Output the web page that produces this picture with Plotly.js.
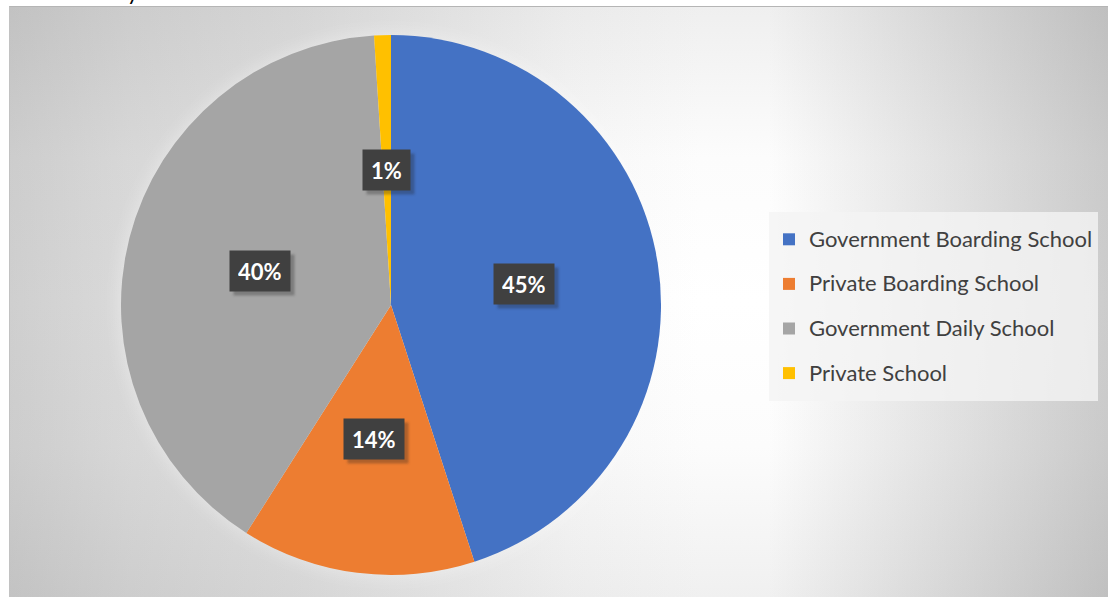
<!DOCTYPE html>
<html>
<head>
<meta charset="utf-8">
<script src="https://cdn.plot.ly/plotly-3.0.1.min.js"></script>
<style>
html,body{margin:0;padding:0;background:#ffffff;}
#wrap{position:relative;width:1108px;height:598px;overflow:hidden;}
#bg{position:absolute;left:9px;top:6px;width:1099px;height:591px;box-sizing:border-box;
  border-top:1px solid #b5b5b5;border-left:1px solid #c2c2c2;
  background:
    linear-gradient(to right,#cfcfcf 0px,#dadada 120px,#e3e3e3 290px,#fafafa 560px,#ffffff 690px,#ffffff 760px,#ebebeb 890px,#cccccc 1099px),
    linear-gradient(to bottom,#efefef 0px,#fcfcfc 150px,#ffffff 295px,#fcfcfc 440px,#f0f0f0 591px);
  background-blend-mode:multiply;}
#chart{position:absolute;left:0;top:0;width:1108px;height:598px;}
#chart .pielayer{filter:drop-shadow(0 0 10px rgba(255,255,255,0.4));}
#chart .annotation rect.bg{filter:drop-shadow(4px 4px 1px rgba(30,30,30,0.3));}
</style>
</head>
<body>
<div id="wrap"><div id="bg"></div><div id="chart"></div></div>
<script>
// ---- data ----
var categories = ['Government Boarding School', 'Private Boarding School', 'Government Daily School', 'Private School'];
var shares = [45, 14, 40, 1];
var sliceColors = ['#4472C4', '#ED7D31', '#A5A5A5', '#FFC000'];

// ---- layout helpers ----
var W = 1108, H = 598;
var domX = [121 / W, 661 / W];
var domY = [23 / H, 563 / H];
var R = Math.min((domX[1] - domX[0]) * W, (domY[1] - domY[0]) * H) / 2;
var cx = (domX[0] + domX[1]) / 2, cy = (domY[0] + domY[1]) / 2;

var total = shares.reduce(function (a, b) { return a + b; }, 0);
var annotations = [];
var cum = 0;
shares.forEach(function (v) {
  var th = 2 * Math.PI * (cum + v / 2) / total;
  cum += v;
  var ax = cx + 0.5 * R * Math.sin(th) / W;
  var ay = cy + 0.5 * R * Math.cos(th) / H;
  var txt = Math.round(v / total * 100) + '%';
  annotations.push({
    xref: 'paper', yref: 'paper', x: ax, y: ay, xanchor: 'center', yanchor: 'middle',
    showarrow: false, text: txt, height: 24,
    font: {family: 'Lato', size: 22, color: '#ffffff', weight: 700},
    bgcolor: '#404040', borderpad: 8
  });
});

// cut-off title descender at the very top
annotations.push({
  xref: 'paper', yref: 'paper', x: 133 / W, y: 1, xanchor: 'center', yanchor: 'bottom',
  yshift: -7, showarrow: false, text: 'y',
  font: {family: 'Lato', size: 22, color: '#000000'}
});

var legendLabels = categories.map(function (c) {
  return '<span style="font-size:22px;baseline-shift:5px">' + c + '</span>';
});

var trace = {
  type: 'pie',
  labels: legendLabels,
  values: shares,
  sort: false,
  direction: 'clockwise',
  rotation: 0,
  textinfo: 'none',
  hoverinfo: 'skip',
  marker: {colors: sliceColors, line: {width: 0}},
  domain: {x: domX, y: domY}
};

var layout = {
  width: W, height: H,
  margin: {l: 0, r: 0, t: 0, b: 0},
  paper_bgcolor: 'rgba(0,0,0,0)',
  plot_bgcolor: 'rgba(0,0,0,0)',
  showlegend: true,
  legend: {
    x: 769 / W, xanchor: 'left', y: 1 - 212 / H, yanchor: 'top',
    bgcolor: 'rgba(244,244,244,0.8)', borderwidth: 0,
    font: {family: 'Lato', size: 32, color: '#404040'},
    traceorder: 'normal'
  },
  annotations: annotations
};

Plotly.newPlot('chart', [trace], layout, {displayModeBar: false, staticPlot: true});
</script>
</body>
</html>
